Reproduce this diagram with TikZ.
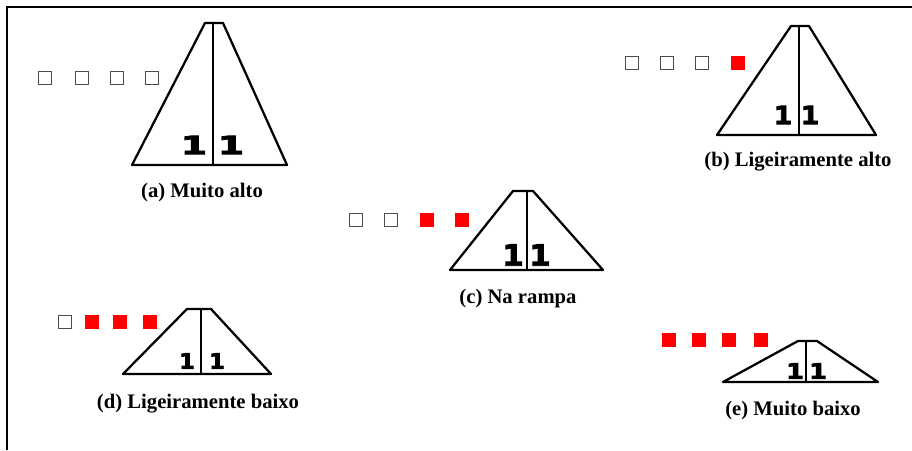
\documentclass[tikz,border=0pt]{standalone}
\usepackage{fontspec}
\setmainfont{Liberation Serif}
\newfontfamily\digitfont[FakeBold=3]{DejaVu Sans}
\begin{document}
\begin{tikzpicture}[
		x=0.75pt, y=-0.75pt,
		ramp/.style={line width=1.7pt, line join=round},
		mid/.style={line width=1.2pt},
		sqoff/.style={draw=black!70, line width=0.9pt, fill=white, minimum size=10pt, inner sep=0pt},
		sqon/.style={draw=red, fill=red, minimum size=10pt, inner sep=0pt},
		caption/.style={font=\fontsize{15.5}{17}\selectfont\bfseries, inner sep=0pt},
		digit/.style={inner sep=0pt},
	]
	\useasboundingbox (0,0) rectangle (912,450);
	\draw[line width=2pt] (7,450) -- (7,7) -- (912,7);

	% (a) Muito alto
	\draw[ramp] (132,165) -- (205,23) -- (223,23) -- (287,165) -- cycle;
	\draw[mid] (213,23) -- (213,165);
	\node[digit] (a1) at (194,145) {\digitfont\bfseries\fontsize{19}{19}\selectfont\scalebox{1.5}[1]{1}};
	\node[digit] (a2) at (231,145) {\digitfont\bfseries\fontsize{19}{19}\selectfont\scalebox{1.5}[1]{1}};
	\node[sqoff] (a-s1) at (45,78) {};
	\node[sqoff] (a-s2) at (82,78) {};
	\node[sqoff] (a-s3) at (117,78) {};
	\node[sqoff] (a-s4) at (152,78) {};
	\node[caption] (a-cap) at (202,193) {(a) Muito alto};

	% (b) Ligeiramente alto
	\draw[ramp] (717,135) -- (791,26) -- (809,26) -- (876,135) -- cycle;
	\draw[mid] (799,26) -- (799,135);
	\node[digit] (b1) at (783,115) {\digitfont\bfseries\fontsize{19}{19}\selectfont\scalebox{1.05}[1]{1}};
	\node[digit] (b2) at (810,115) {\digitfont\bfseries\fontsize{19}{19}\selectfont\scalebox{1.05}[1]{1}};
	\node[sqoff] (b-s1) at (632,63) {};
	\node[sqoff] (b-s2) at (667,63) {};
	\node[sqoff] (b-s3) at (702,63) {};
	\node[sqon]  (b-s4) at (738,63) {};
	\node[caption] (b-cap) at (798,162) {(b) Ligeiramente alto};

	% (c) Na rampa
	\draw[ramp] (450,270) -- (513,191) -- (533,191) -- (603,270) -- cycle;
	\draw[mid] (527,191) -- (527,270);
	\node[digit] (c1) at (513,255) {\digitfont\bfseries\fontsize{22}{22}\selectfont\scalebox{1.05}[1]{1}};
	\node[digit] (c2) at (540,255) {\digitfont\bfseries\fontsize{22}{22}\selectfont\scalebox{1.05}[1]{1}};
	\node[sqoff] (c-s1) at (356,220) {};
	\node[sqoff] (c-s2) at (391,220) {};
	\node[sqon]  (c-s3) at (427,220) {};
	\node[sqon]  (c-s4) at (462,220) {};
	\node[caption] (c-cap) at (518,299) {(c) Na rampa};

	% (d) Ligeiramente baixo
	\draw[ramp] (123,374) -- (187,309) -- (211,309) -- (271,374) -- cycle;
	\draw[mid] (201,309) -- (201,374);
	\node[digit] (d1) at (187,361) {\digitfont\bfseries\fontsize{16}{16}\selectfont\scalebox{1.05}[1]{1}};
	\node[digit] (d2) at (217,361) {\digitfont\bfseries\fontsize{16}{16}\selectfont\scalebox{1.05}[1]{1}};
	\node[sqoff] (d-s1) at (65,322) {};
	\node[sqon]  (d-s2) at (92,322) {};
	\node[sqon]  (d-s3) at (120,322) {};
	\node[sqon]  (d-s4) at (150,322) {};
	\node[caption] (d-cap) at (198,404) {(d) Ligeiramente baixo};

	% (e) Muito baixo
	\draw[ramp] (723,382) -- (798,341) -- (817,341) -- (878,382) -- cycle;
	\draw[mid] (806,341) -- (806,382);
	\node[digit] (e1) at (795,371) {\digitfont\bfseries\fontsize{16}{16}\selectfont\scalebox{1.2}[1]{1}};
	\node[digit] (e2) at (818,371) {\digitfont\bfseries\fontsize{16}{16}\selectfont\scalebox{1.2}[1]{1}};
	\node[sqon] (e-s1) at (669,340) {};
	\node[sqon] (e-s2) at (699,340) {};
	\node[sqon] (e-s3) at (729,340) {};
	\node[sqon] (e-s4) at (761,340) {};
	\node[caption] (e-cap) at (793,411) {(e) Muito baixo};
\end{tikzpicture}
\end{document}
